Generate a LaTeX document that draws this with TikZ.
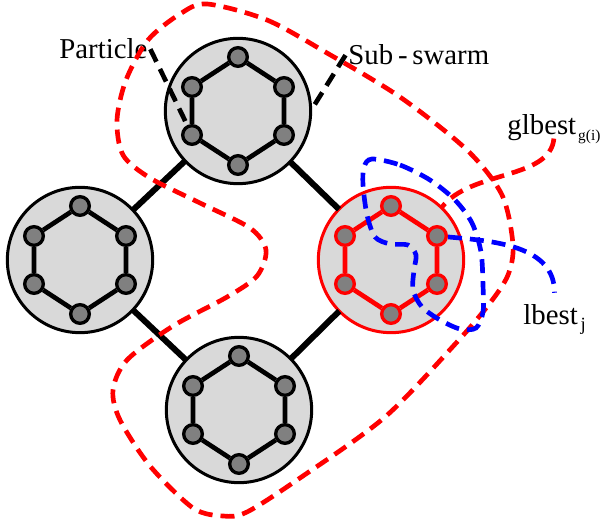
\documentclass[tikz,border=0pt]{standalone}
\usepackage{fontspec}
\setmainfont{Liberation Serif}
\usepackage{tikz}
\usetikzlibrary{calc}

\begin{document}
\begin{tikzpicture}[x=0.75pt, y=-0.75pt,
    swarm/.style={circle, draw=black, line width=2.25pt, fill=black!15, minimum size=109pt, inner sep=0pt, outer sep=0pt},
    agent/.style={circle, draw=black, line width=2.5pt, fill=black!50, minimum size=14pt, inner sep=0pt},
    ring/.style={line width=3.5pt},
    bond/.style={line width=4.5pt},
    tag/.style={inner sep=2pt, font=\fontsize{21.6}{26}\selectfont},
    blackdash/.style={draw=black, line width=3.5pt, dash pattern=on 10.5pt off 6pt},
    reddash/.style={draw=red, line width=3.5pt, dash pattern=on 10.5pt off 6pt},
    bluedash/.style={draw=blue, line width=3.5pt, dash pattern=on 10.5pt off 6pt}]
    \useasboundingbox (0,0) rectangle (602,523);

    \foreach \sw/\cx/\cy/\col in {swtop/238/111/black, swleft/80/260/black, swright/391/260/red, swbot/239/410/black}
      {
        \node[swarm, draw=\col] (\sw) at (\cx,\cy) {};
        \foreach \i/\dx/\dy in {1/0/-54, 2/46/-24, 3/46/24, 4/0/54, 5/-46/24, 6/-46/-24}
          {
            \node[agent, draw=\col] (\sw-\i) at (\cx+\dx,\cy+\dy) {};
          }
        \draw[ring, \col] (\sw-1) -- (\sw-2) -- (\sw-3) -- (\sw-4) -- (\sw-5) -- (\sw-6) -- (\sw-1);
      }
    \draw[bond] (swtop) -- (swleft);
    \draw[bond] (swtop) -- (swright);
    \draw[bond] (swleft) -- (swbot);
    \draw[bond] (swright) -- (swbot);

    \node[tag, anchor=base west] (particle) at (56.5,59) {Particle};
    \node[tag, anchor=base west] (subswarm) at (345.5,65) {Sub\,-\,swarm};
    \node[tag, anchor=base west] (glbest) at (504.5,135) {glbest\hspace{1.5pt}\raisebox{-4pt}{\fontsize{11.5}{11.5}\selectfont g(i)}};
    \node[tag, anchor=base west] (lbest) at (520.5,325) {lbest\hspace{2pt}\raisebox{-4.5pt}{\fontsize{14}{14}\selectfont j}};
    \coordinate (gfoot) at ([yshift=6pt]glbest.south);
    \coordinate (ltip) at ([yshift=7pt]lbest.north);

    \draw[blackdash] (particle.east) -- (swtop-5);
    \draw[blackdash] (subswarm.west) -- (swtop.east);

    \draw[reddash] plot[smooth cycle] coordinates {(207,4) (267,20) (327,53) (400,97) (467,150)
      (502,195) (513,245) (508,275) (490,303) (457,342) (385,417) (300,478) (247,512) (223,516)
      (193,508) (150,466) (120,420) (113,390) (127,360) (173,326) (227,297) (257,276) (266,250)
      (250,228) (200,203) (150,178) (123,155) (117,120) (126,80) (148,40) (180,14)};
    \draw[reddash] (gfoot) .. controls (550,180) and (470,170) .. (swright.46);

    \draw[bluedash] plot[smooth cycle] coordinates {(372,159) (400,165) (430,180) (455,200) (472,223)
      (481,252) (483,285) (483,312) (476,328) (460,329) (440,320) (422,307) (413,290) (414,270)
      (416,255) (408,245) (390,244) (375,237) (367,215) (363,185) (364,167)};
    \draw[bluedash] (swright-2) to[out=-5, in=90] (ltip);
\end{tikzpicture}
\end{document}
